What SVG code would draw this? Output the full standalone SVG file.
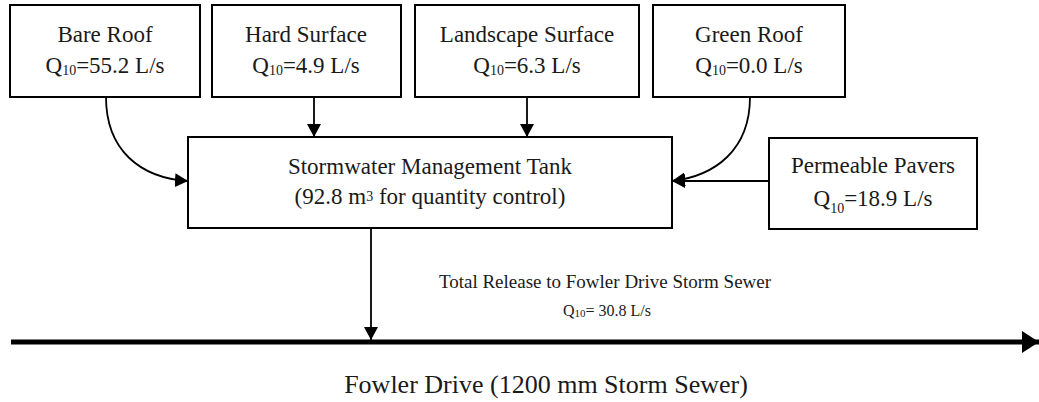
<svg xmlns="http://www.w3.org/2000/svg" width="1039" height="402" viewBox="0 0 1039 402" font-family="'Liberation Serif', 'Times New Roman', serif">
  <style>
    text { font-family: "Liberation Serif", "Times New Roman", serif; fill: #1a1a1a; text-anchor: middle; }
    .box { fill: #ffffff; stroke: #000000; stroke-width: 2; }
    .lbl { font-size: 23px; }
    .sub { font-size: 14px; }
    .wire { fill: none; stroke: #000000; stroke-width: 1.8; }
    .main { fill: none; stroke: #000000; stroke-width: 5; }
  </style>
  <defs>
    <marker id="arrow" markerUnits="userSpaceOnUse" markerWidth="13" markerHeight="14" refX="13" refY="7" orient="auto">
      <path d="M0,0 L13,7 L0,14 z" fill="#000000"/>
    </marker>
    <marker id="arrow-big" markerUnits="userSpaceOnUse" markerWidth="17" markerHeight="22" refX="17" refY="11" orient="auto">
      <path d="M0,0 L17,11 L0,22 z" fill="#000000"/>
    </marker>
  </defs>
  <rect width="1039" height="402" fill="#ffffff"/>

  <!-- connectors -->
  <g id="connectors">
    <path class="wire" d="M106,97 C106,150 140,178 188,181" marker-end="url(#arrow)"/>
    <path class="wire" d="M314,97 L314,137" marker-end="url(#arrow)"/>
    <path class="wire" d="M527,97 L527,137" marker-end="url(#arrow)"/>
    <path class="wire" d="M750,97 C750,150 715,176 672,181" marker-end="url(#arrow)"/>
    <path class="wire" d="M769,181 L672,181" marker-end="url(#arrow)"/>
    <path class="wire" d="M371,228 L371,340" marker-end="url(#arrow)"/>
    <path class="main" d="M11,342 L1039,342" marker-end="url(#arrow-big)"/>
  </g>

  <!-- source areas -->
  <g id="bare-roof">
    <rect class="box" x="10" y="5" width="190" height="92"/>
    <text class="lbl" x="105" y="42" font-family="'Liberation Serif', serif">Bare Roof</text>
    <text class="lbl" x="105" y="73" font-family="'Liberation Serif', serif">Q<tspan class="sub" dy="2">10</tspan><tspan dy="-2">=55.2 L/s</tspan></text>
  </g>
  <g id="hard-surface">
    <rect class="box" x="212" y="5" width="189" height="92"/>
    <text class="lbl" x="306" y="42" font-family="'Liberation Serif', serif">Hard Surface</text>
    <text class="lbl" x="306" y="73" font-family="'Liberation Serif', serif">Q<tspan class="sub" dy="2">10</tspan><tspan dy="-2">=4.9 L/s</tspan></text>
  </g>
  <g id="landscape-surface">
    <rect class="box" x="415" y="5" width="224" height="92"/>
    <text class="lbl" x="527" y="42" font-family="'Liberation Serif', serif">Landscape Surface</text>
    <text class="lbl" x="527" y="73" font-family="'Liberation Serif', serif">Q<tspan class="sub" dy="2">10</tspan><tspan dy="-2">=6.3 L/s</tspan></text>
  </g>
  <g id="green-roof">
    <rect class="box" x="653" y="5" width="192" height="92"/>
    <text class="lbl" x="749" y="42" font-family="'Liberation Serif', serif">Green Roof</text>
    <text class="lbl" x="749" y="73" font-family="'Liberation Serif', serif">Q<tspan class="sub" dy="2">10</tspan><tspan dy="-2">=0.0 L/s</tspan></text>
  </g>

  <!-- storage -->
  <g id="tank">
    <rect class="box" x="188" y="137" width="484" height="91"/>
    <text class="lbl" x="430" y="174" font-family="'Liberation Serif', serif">Stormwater Management Tank</text>
    <text class="lbl" x="430" y="204" font-family="'Liberation Serif', serif">(92.8 m<tspan class="sub" dy="-3">3</tspan><tspan dy="3"> for quantity control)</tspan></text>
  </g>

  <g id="permeable-pavers">
    <rect class="box" x="769" y="138" width="208" height="91"/>
    <text class="lbl" x="873" y="173" font-family="'Liberation Serif', serif">Permeable Pavers</text>
    <text class="lbl" x="873" y="206" font-family="'Liberation Serif', serif">Q<tspan class="sub" dy="7">10</tspan><tspan dy="-7">=18.9 L/s</tspan></text>
  </g>

  <!-- outlet -->
  <g id="release-label">
    <text x="605" y="288" font-size="19">Total Release to Fowler Drive Storm Sewer</text>
    <text x="607" y="316" font-size="16">Q<tspan font-size="11" dy="1">10</tspan><tspan dy="-1">= 30.8 L/s</tspan></text>
  </g>
  <g id="fowler-drive">
    <text x="546" y="393" font-size="26">Fowler Drive (1200 mm Storm Sewer)</text>
  </g>
</svg>
